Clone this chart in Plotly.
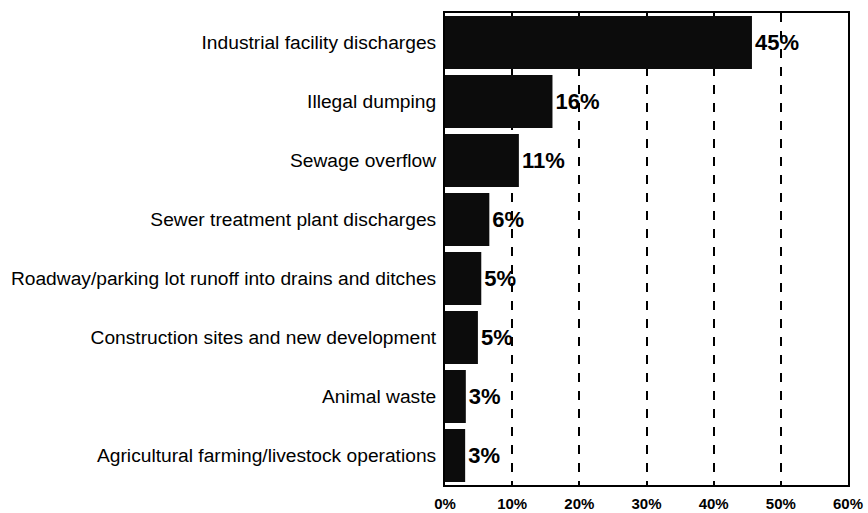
import plotly.graph_objects as go

# categories listed top to bottom as in the chart
categories = [
    "Industrial facility discharges",
    "Illegal dumping",
    "Sewage overflow",
    "Sewer treatment plant discharges",
    "Roadway/parking lot runoff into drains and ditches",
    "Construction sites and new development",
    "Animal waste",
    "Agricultural farming/livestock operations",
]
shares = [45.7, 16.0, 11.0, 6.6, 5.4, 4.9, 3.1, 3.0]
share_labels = ["45%", "16%", "11%", "6%", "5%", "5%", "3%", "3%"]
tick_vals = [0, 10, 20, 30, 40, 50, 60]
tick_text = ["0%", "10%", "20%", "30%", "40%", "50%", "60%"]

fig = go.Figure(
    go.Bar(
        y=categories,
        x=shares,
        orientation="h",
        marker=dict(color="#0c0c0c", line=dict(width=0)),
        text=share_labels,
        textposition="outside",
        textfont=dict(family="Liberation Sans, Arial", size=22, color="black", weight="bold"),
        cliponaxis=False,
    )
)

fig.update_layout(
    width=868,
    height=513,
    margin=dict(l=445, r=20, t=13, b=28),
    paper_bgcolor="white",
    plot_bgcolor="white",
    bargap=0.1,
    showlegend=False,
    font=dict(family="Liberation Sans, Arial", color="black"),
)
fig.update_xaxes(
    range=[0, 60],
    tickvals=tick_vals,
    ticktext=tick_text,
    tickfont=dict(size=15, weight="bold"),
    showgrid=True,
    gridcolor="black",
    griddash="dash",
    gridwidth=1.5,
    showline=True,
    linecolor="black",
    linewidth=2,
    mirror=True,
    zeroline=False,
    ticks="",
    ticklabelstandoff=4,
    automargin=False,
)
fig.update_yaxes(
    categoryorder="array",
    categoryarray=categories[::-1],
    tickfont=dict(size=19.2),
    showline=True,
    linecolor="black",
    linewidth=2,
    mirror=True,
    ticks="",
    ticklabelstandoff=3,
    automargin=False,
)

# page body has a default 8px margin; drop it so the figure sits at the window corner
fig.write_html(
    "out.html",
    config={"displayModeBar": False},
    post_script="document.body.style.margin='0';",
)
